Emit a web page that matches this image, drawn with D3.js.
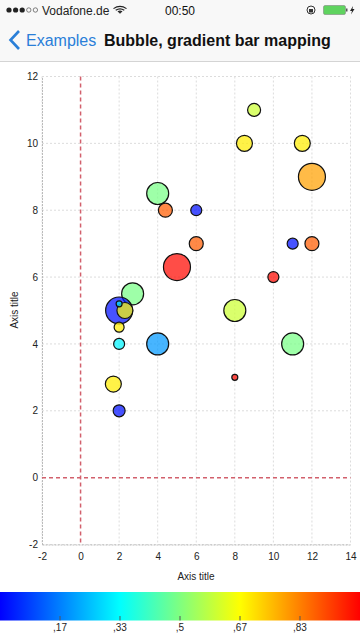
<!DOCTYPE html>
<html>
<head>
<meta charset="utf-8">
<script src="https://cdn.jsdelivr.net/npm/d3@7"></script>
<style>
html, body { margin: 0; padding: 0; background: #fff; }
svg { display: block; font-family: "Liberation Sans", Arial, sans-serif; }
</style>
</head>
<body>
<div id="chart"></div>
<script>
// bubbles
var xValues = [9, 8.5, 11.5, 12, 4, 4.4, 6, 6, 11, 12, 5, 10, 2.7, 2, 2.3, 2, 8, 2, 2, 4, 11, 8, 1.7, 2];
var yValues = [11, 10, 10, 9, 8.5, 8, 8, 7, 7, 7, 6.3, 6, 5.5, 5, 5, 5.2, 5, 4.5, 4, 4, 4, 3, 2.8, 2];
var sizes = [6.5, 8, 8, 13.5, 11, 7, 5.5, 7, 5.5, 7, 13.5, 5.5, 11, 13.5, 8, 3, 11, 5, 5.5, 11, 11, 3, 8, 6];
var colorValues = [0.6, 0.69, 0.69, 0.79, 0.49, 0.88, 0.02, 0.88, 0.02, 0.88, 0.99, 0.99, 0.49, 0.02, 0.67, 0.3, 0.6, 0.69, 0.32, 0.2, 0.49, 0.99, 0.69, 0.02];
var xTicks = [-2, 0, 2, 4, 6, 8, 10, 12, 14];
var yTicks = [-2, 0, 2, 4, 6, 8, 10, 12];
var barTicks = [0.1667, 0.3333, 0.5, 0.6667, 0.8333];
var barTickLabels = [",17", ",33", ",5", ",67", ",83"];
var gradientStops = [0, 0.3333, 0.6667, 1];
var gradientColors = ["#0000ff", "#00ffff", "#ffff00", "#ff0000"];

var width = 360, height = 640;
var svg = d3.select("#chart").append("svg").attr("width", width).attr("height", height);

var x = d3.scaleLinear().domain([-2, 14]).range([42, 350.5]);
var y = d3.scaleLinear().domain([-2, 12]).range([544.5, 76.5]);
var r = d3.scaleLinear().domain([0, 13.5]).range([0, 13.5]);
var color = d3.scaleLinear().domain(gradientStops).range(gradientColors);
var barX = d3.scaleLinear().domain([0, 1]).range([0, 360]);

// status and nav bar
svg.append("rect").attr("width", width).attr("height", 61).attr("fill", "#f8f8f8");
svg.append("rect").attr("y", 61).attr("width", width).attr("height", 1).attr("fill", "#d4d4d4");
var statusBar = svg.append("g");
[0, 1, 2, 3, 4].forEach(function (i) {
  statusBar.append("circle").attr("cx", 9 + i * 6.6).attr("cy", 10).attr("r", i < 3 ? 2.6 : 2.2)
    .attr("fill", i < 3 ? "#222" : "none").attr("stroke", "#333").attr("stroke-width", i < 3 ? 0 : 0.6);
});
statusBar.append("text").attr("x", 42).attr("y", 14.5).attr("font-size", 12).attr("fill", "#222").text("Vodafone.de");
[[6.5, 4.2], [4.3, 2.8], [2.1, 1.4]].forEach(function (a) {
  statusBar.append("path").attr("d", "M" + (120 - a[0]) + "," + (13.5 - a[0] * 0.75) + " Q120," + (13.5 - a[0] * 1.45) + " " + (120 + a[0]) + "," + (13.5 - a[0] * 0.75))
    .attr("fill", "none").attr("stroke", "#222").attr("stroke-width", 1.2);
});
statusBar.append("circle").attr("cx", 120).attr("cy", 12.5).attr("r", 1).attr("fill", "#222");
statusBar.append("text").attr("x", 180).attr("y", 14.5).attr("text-anchor", "middle").attr("font-size", 12).attr("fill", "#111").text("00:50");
statusBar.append("circle").attr("cx", 311).attr("cy", 10).attr("r", 4).attr("fill", "none").attr("stroke", "#333");
statusBar.append("rect").attr("x", 309).attr("y", 9).attr("width", 4).attr("height", 3.5).attr("fill", "#333");
statusBar.append("rect").attr("x", 323.5).attr("y", 5.5).attr("width", 22).attr("height", 9).attr("rx", 1.5).attr("fill", "#5fd35f").attr("stroke", "#777").attr("stroke-width", 0.5);
statusBar.append("rect").attr("x", 346).attr("y", 8.5).attr("width", 1.5).attr("height", 3).attr("fill", "#555");
statusBar.append("path").attr("d", "M353,6 L350,11 L352,11 L351,14.5 L354.5,9 L352.5,9 Z").attr("fill", "#222");

svg.append("path").attr("d", "M19,31 L10.5,40 L19,49").attr("fill", "none").attr("stroke", "#2a7fd8").attr("stroke-width", 2.6);
svg.append("text").attr("x", 26).attr("y", 46).attr("font-size", 16).attr("fill", "#2a7fd8").text("Examples");
svg.append("text").attr("x", 104).attr("y", 46).attr("font-size", 16).attr("font-weight", "bold").attr("fill", "#111").text("Bubble, gradient bar mapping");

// grid
var grid = svg.append("g").attr("stroke", "#dcdcdc").attr("stroke-width", 1).attr("stroke-dasharray", "2,2");
xTicks.filter(function (d) { return d !== 0; }).forEach(function (d) {
  grid.append("line").attr("x1", x(d)).attr("x2", x(d)).attr("y1", y(12)).attr("y2", y(-2));
});
yTicks.filter(function (d) { return d !== 0; }).forEach(function (d) {
  grid.append("line").attr("x1", x(-2)).attr("x2", x(14)).attr("y1", y(d)).attr("y2", y(d));
});

// axes
var xAxis = d3.axisBottom(x).tickValues(xTicks).tickSize(0).tickPadding(8).tickFormat(String);
var yAxis = d3.axisLeft(y).tickValues(yTicks).tickSize(0).tickPadding(4).tickFormat(String);
var gx = svg.append("g").attr("transform", "translate(0," + y(-2) + ")").call(xAxis);
var gy = svg.append("g").attr("transform", "translate(" + x(-2) + ",0)").call(yAxis);
[gx, gy].forEach(function (g) {
  g.select(".domain").attr("stroke", "#bbb").attr("stroke-dasharray", "2,1");
  g.selectAll("text").attr("font-size", 10).attr("font-family", "Liberation Sans").attr("fill", "#222");
});

svg.append("text").attr("x", 196).attr("y", 580).attr("text-anchor", "middle").attr("font-size", 10).attr("fill", "#222").text("Axis title");
svg.append("text").attr("transform", "translate(18,310) rotate(-90)").attr("text-anchor", "middle").attr("font-size", 10).attr("fill", "#222").text("Axis title");

// zero lines
var zero = svg.append("g").attr("stroke", "#d2606c").attr("stroke-width", 1.5).attr("stroke-dasharray", "4,3");
zero.append("line").attr("x1", x(0)).attr("x2", x(0)).attr("y1", y(12)).attr("y2", y(-2));
zero.append("line").attr("x1", x(-2)).attr("x2", x(14)).attr("y1", y(0)).attr("y2", y(0));

// bubbles
svg.append("g").selectAll("circle").data(xValues).enter().append("circle")
  .attr("cx", function (d) { return x(d); })
  .attr("cy", function (d, i) { return y(yValues[i]); })
  .attr("r", function (d, i) { return r(sizes[i]); })
  .attr("fill", function (d, i) { return color(colorValues[i]); })
  .attr("fill-opacity", 0.72)
  .attr("stroke", "#111")
  .attr("stroke-width", 1.2);

// gradient bar
var grad = svg.append("defs").append("linearGradient").attr("id", "bar");
gradientStops.forEach(function (s, i) {
  grad.append("stop").attr("offset", s).attr("stop-color", gradientColors[i]);
});
svg.append("rect").attr("x", 0).attr("y", 592).attr("width", 360).attr("height", 28.5).attr("fill", "url(#bar)");
barTicks.forEach(function (t, i) {
  svg.append("line").attr("x1", barX(t)).attr("x2", barX(t)).attr("y1", 616).attr("y2", 620.5).attr("stroke", "#555").attr("stroke-width", 1);
  svg.append("text").attr("x", barX(t)).attr("y", 631).attr("text-anchor", "middle").attr("font-size", 10).attr("fill", "#222").text(barTickLabels[i]);
});
</script>
</body>
</html>
